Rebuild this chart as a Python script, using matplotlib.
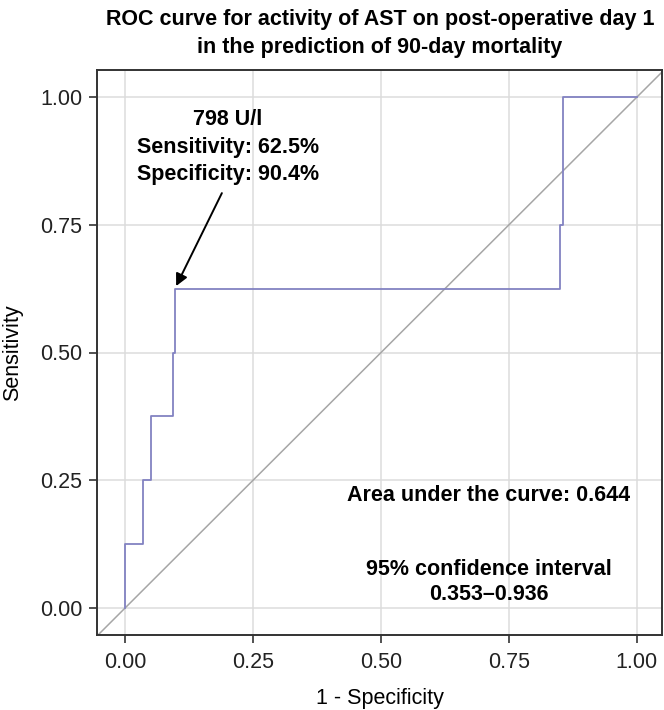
import matplotlib
matplotlib.use("Agg")
import matplotlib.pyplot as plt

plt.rcParams['font.family'] = ['Liberation Sans', 'DejaVu Sans']

# ROC curve points (1 - specificity, sensitivity)
fpr = [0.0, 0.0, 0.034, 0.034, 0.050, 0.050, 0.093, 0.093, 0.098, 0.098,
       0.850, 0.850, 0.855, 0.855, 1.0]
tpr = [0.0, 0.125, 0.125, 0.25, 0.25, 0.375, 0.375, 0.5, 0.5, 0.625,
       0.625, 0.75, 0.75, 1.0, 1.0]
ticks = [0.0, 0.25, 0.5, 0.75, 1.0]
tick_labels = ["0.00", "0.25", "0.50", "0.75", "1.00"]
cut_point = (0.0996, 0.630)
cut_label = "798 U/l\nSensitivity: 62.5%\nSpecificity: 90.4%"
auc_text = "Area under the curve: 0.644"
ci_text = "95% confidence interval\n0.353\u20130.936"
title = "ROC curve for activity of AST on post-operative day 1\nin the prediction of 90-day mortality"

fig = plt.figure(figsize=(6.64, 7.10), dpi=100)
ax = fig.add_axes([97/664, 1 - 635/710, 565/664, 565/710])

ax.set_xlim(-0.055, 1.049)
ax.set_ylim(-0.053, 1.053)
ax.set_xticks(ticks)
ax.set_yticks(ticks)
ax.set_xticklabels(tick_labels)
ax.set_yticklabels(tick_labels)
ax.grid(True, color='#dcdcdc', linewidth=1.1)
ax.set_axisbelow(True)
for s in ax.spines.values():
    s.set_color('#333333')
    s.set_linewidth(1.4)
ax.tick_params(axis='both', direction='out', length=6, width=1.2, color='#333333',
               labelsize=15.5, labelcolor='#222222')
ax.tick_params(axis='x', pad=6)
ax.tick_params(axis='y', pad=4.5)

ax.plot([-0.2, 1.2], [-0.2, 1.2], color='#a6a6a6', linewidth=1.1, zorder=2)
ax.plot(fpr, tpr, color='#8282c2', linewidth=1.3, zorder=3)

ax.annotate("", xy=cut_point, xytext=(0.189, 0.812),
            arrowprops=dict(arrowstyle='-|>', color='black', lw=1.4,
                            mutation_scale=18, shrinkA=0, shrinkB=0))
ax.text(0.201, 0.902, cut_label, ha='center', va='center', fontsize=15.5,
        fontweight='bold', linespacing=1.4)
ax.text(0.71, 0.221, auc_text, ha='center', va='center', fontsize=15.5,
        fontweight='bold')
ax.text(0.71, 0.050, ci_text, ha='center', va='center', fontsize=15.5,
        fontweight='bold', linespacing=1.25)

ax.set_xlabel("1 - Specificity", fontsize=15.5, labelpad=11)
ax.set_ylabel("Sensitivity", fontsize=15.5)
ax.yaxis.set_label_coords(-0.131, 0.5)
fig.text(380/664, 1 - 33.5/710, title, ha='center', va='center', fontsize=15.5,
         fontweight='bold', linespacing=1.45)

fig.savefig("out.png", dpi=100)
